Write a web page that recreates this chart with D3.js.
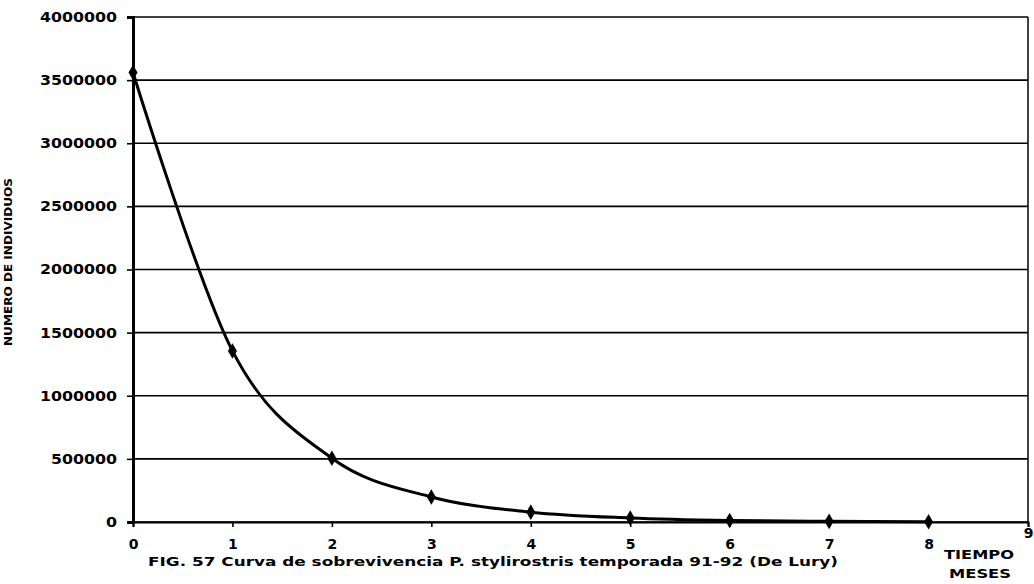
<!DOCTYPE html>
<html>
<head>
<meta charset="utf-8">
<script src="https://cdn.jsdelivr.net/npm/d3@7"></script>
<style>
  body { margin: 0; background: #fff; }
</style>
</head>
<body>
<svg id="chart"></svg>
<script>
// survival data (months vs individuals)
var months = [0, 1, 2, 3, 4, 5, 6, 7, 8];
var individuals = [3560000, 1355000, 505000, 198000, 78000, 32000, 12000, 5000, 2000];
var yTicks = [0, 500000, 1000000, 1500000, 2000000, 2500000, 3000000, 3500000, 4000000];
var xTicks = [0, 1, 2, 3, 4, 5, 6, 7, 8, 9];

var data = months.map(function(m, i) { return { x: m, y: individuals[i] }; });

var FONT = "'DejaVu Sans', 'Liberation Sans', Arial, sans-serif";

var margin = { top: 17, right: 6, bottom: 62, left: 133 };
var width = 1034 - margin.left - margin.right;
var height = 584 - margin.top - margin.bottom;

var svg = d3.select("#chart")
  .attr("width", 1034)
  .attr("height", 584);

var g = svg.append("g")
  .attr("transform", "translate(" + margin.left + "," + margin.top + ")");

var xScale = d3.scaleLinear().domain([0, 9]).range([0, width]);
var yScale = d3.scaleLinear().domain([0, 4000000]).range([height, 0]);

// gridlines
g.selectAll(".grid")
  .data(yTicks)
  .enter().append("line")
  .attr("class", "grid")
  .attr("x1", 0)
  .attr("x2", width)
  .attr("y1", function(d) { return yScale(d); })
  .attr("y2", function(d) { return yScale(d); })
  .attr("stroke", "#000")
  .attr("stroke-width", 1.6);

// right border
g.append("line")
  .attr("x1", width).attr("x2", width)
  .attr("y1", 0).attr("y2", height)
  .attr("stroke", "#000")
  .attr("stroke-width", 1.5);

// y axis
var yAxis = g.append("g")
  .call(d3.axisLeft(yScale).tickValues(yTicks).tickFormat(d3.format("d")).tickSize(6).tickPadding(10));
yAxis.select(".domain").attr("stroke-width", 3);
yAxis.selectAll(".tick line").attr("stroke-width", 1.6);
yAxis.selectAll("text")
  .style("font-family", FONT)
  .style("font-weight", "bold")
  .style("font-size", "14px")
  .attr("textLength", function(d) { return String(d).length * 11; })
  .attr("lengthAdjust", "spacingAndGlyphs");

// x axis
var xAxis = g.append("g")
  .attr("transform", "translate(0," + height + ")")
  .call(d3.axisBottom(xScale).tickValues(xTicks).tickFormat(d3.format("d")).tickSize(5).tickPadding(12));
xAxis.select(".domain").attr("stroke-width", 2);
xAxis.selectAll(".tick line").attr("stroke-width", 1.6);
xAxis.selectAll("text")
  .style("font-family", FONT)
  .style("font-weight", "bold")
  .style("font-size", "14px");
// the 9 sits a little higher at the corner
xAxis.selectAll(".tick").filter(function(d) { return d === 9; }).select("text").attr("y", 6);

// curve
var line = d3.line()
  .x(function(d) { return xScale(d.x); })
  .y(function(d) { return yScale(d.y); })
  .curve(d3.curveCatmullRom.alpha(0));

g.append("path")
  .datum(data)
  .attr("d", line)
  .attr("fill", "none")
  .attr("stroke", "#000")
  .attr("stroke-width", 3);

// diamond markers
g.selectAll(".dot")
  .data(data)
  .enter().append("path")
  .attr("class", "dot")
  .attr("d", d3.symbol().type(d3.symbolDiamond).size(70))
  .attr("transform", function(d) { return "translate(" + xScale(d.x) + "," + yScale(d.y) + ")"; })
  .attr("fill", "#000");

function label(x, y, txt, size, len, rotate) {
  var t = svg.append("text")
    .attr("transform", "translate(" + x + "," + y + ")" + (rotate ? " rotate(-90)" : ""))
    .style("text-anchor", "middle")
    .style("font-family", FONT)
    .style("font-weight", "bold")
    .style("font-size", size + "px")
    .attr("textLength", len)
    .attr("lengthAdjust", "spacingAndGlyphs")
    .text(txt);
  return t;
}

// y axis title
label(12, 262, "NUMERO DE INDIVIDUOS", 11, 168, true);

// bottom caption
label(493, 566, "FIG. 57 Curva de sobrevivencia P. stylirostris temporada 91-92 (De Lury)", 12, 690, false);

// x axis title
label(979, 559, "TIEMPO", 13, 70, false);
label(980, 578, "MESES", 13, 62, false);
</script>
</body>
</html>
